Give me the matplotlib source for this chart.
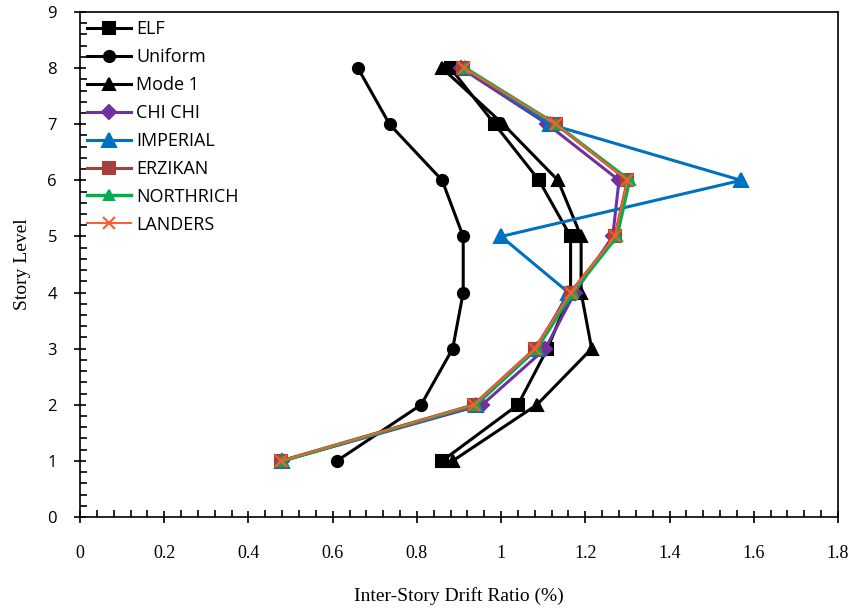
import matplotlib.pyplot as plt
from matplotlib.ticker import MultipleLocator, FormatStrFormatter

# story levels and inter-story drift ratios (%) per load case
levels = [1, 2, 3, 4, 5, 6, 7, 8]
elf = [0.86, 1.04, 1.11, 1.165, 1.165, 1.09, 0.985, 0.88]
uniform = [0.61, 0.81, 0.885, 0.91, 0.91, 0.86, 0.735, 0.66]
mode1 = [0.885, 1.085, 1.215, 1.19, 1.19, 1.135, 1.005, 0.86]
chichi = [0.48, 0.955, 1.105, 1.175, 1.265, 1.28, 1.11, 0.905]
imperial = [0.48, 0.94, 1.085, 1.16, 1.0, 1.57, 1.115, 0.915]
erzikan = [0.477, 0.935, 1.08, 1.165, 1.27, 1.3, 1.13, 0.91]
northrich = [0.48, 0.94, 1.085, 1.17, 1.275, 1.305, 1.13, 0.915]
landers = [0.478, 0.935, 1.08, 1.165, 1.27, 1.3, 1.13, 0.912]

series = [
    ("ELF", elf, "black", "s", 8, 2.2),
    ("Uniform", uniform, "black", "o", 8, 2.2),
    ("Mode 1", mode1, "black", "^", 9, 2.2),
    ("CHI CHI", chichi, "#7030A0", "D", 7, 2.2),
    ("IMPERIAL", imperial, "#0070C0", "^", 10, 2.2),
    ("ERZIKAN", erzikan, "#A5403C", "s", 8, 2.2),
    ("NORTHRICH", northrich, "#00B050", "^", 7, 2.5),
    ("LANDERS", landers, "#FF5A2E", "x", 8, 1.4),
]

fig = plt.figure(figsize=(8.54, 6.08), dpi=100)
ax = fig.add_axes([80 / 854, 91 / 608, 758 / 854, 505 / 608])

for name, vals, col, mk, ms, lw in series:
    ax.plot(vals, levels, color=col, marker=mk, markersize=ms, lw=lw,
            mew=1.5, label=name)

ax.set_xlim(0, 1.8)
ax.set_ylim(0, 9)
ax.xaxis.set_major_locator(MultipleLocator(0.2))
ax.xaxis.set_minor_locator(MultipleLocator(0.04))
ax.xaxis.set_major_formatter(FormatStrFormatter("%g"))
ax.yaxis.set_major_locator(MultipleLocator(1))
ax.yaxis.set_minor_locator(MultipleLocator(0.2))
ax.tick_params(which="major", direction="inout", length=9, width=1.2)
ax.tick_params(which="minor", direction="in", length=5, width=1.2)
ax.tick_params(axis="x", pad=16, labelsize=13, labelfontfamily="Liberation Serif")
ax.tick_params(axis="y", pad=12, labelsize=12, labelfontfamily="Open Sans")
for sp in ax.spines.values():
    sp.set_linewidth(1.2)

ax.set_xlabel("Inter-Story Drift Ratio (%)", fontfamily="Liberation Serif",
              fontsize=14, labelpad=18)
ax.set_ylabel("Story Level", fontfamily="Liberation Serif", fontsize=14,
              labelpad=12)

ax.legend(loc="upper left", frameon=False, prop={"family": "Open Sans", "size": 13},
          handlelength=2.4, labelspacing=0.55, borderaxespad=0.0,
          handletextpad=0.3, bbox_to_anchor=(0.0, 0.998))

plt.savefig("out.png", dpi=100)
